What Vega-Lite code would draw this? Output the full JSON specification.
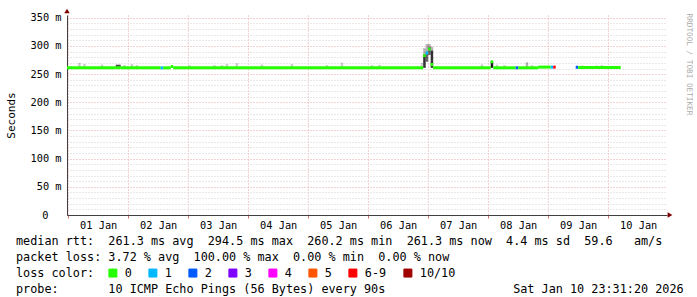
{
  "$schema": "https://vega.github.io/schema/vega-lite/v6.json",
  "width": 600,
  "height": 200,
  "autosize": {"type": "none"},
  "padding": {"left": 67, "top": 15, "right": 30, "bottom": 82},
  "background": "#ffffff",
  "config": {"view": {"stroke": null}},
  "title": {
    "text": ["median rtt:\u00a0\u00a0261.3 ms avg\u00a0\u00a0294.5 ms max\u00a0\u00a0260.2 ms min\u00a0\u00a0261.3 ms now\u00a0\u00a04.4 ms sd\u00a0\u00a059.6\u00a0\u00a0\u00a0am/s", "packet loss: 3.72 % avg\u00a0\u00a0100.00 % max\u00a0\u00a00.00 % min\u00a0\u00a00.00 % now", "loss color:", "probe:\u00a0\u00a0\u00a0\u00a0\u00a0\u00a0\u00a010 ICMP Echo Pings (56 Bytes) every 90s\u00a0\u00a0\u00a0\u00a0\u00a0\u00a0\u00a0\u00a0\u00a0\u00a0\u00a0\u00a0\u00a0\u00a0\u00a0\u00a0\u00a0\u00a0Sat Jan 10 23:31:20 2026"],
    "orient": "bottom", "anchor": "start", "frame": "group", "align": "left", "baseline": "alphabetic",
    "dx": -51, "offset": -35, "lineHeight": 16,
    "font": "DejaVu Sans Mono", "fontSize": 11.8, "fontWeight": "normal", "color": "#000000"
  },
  "resolve": {"axis": {"y": "independent"}},
  "datasets": {
    "median": [
      {"t0": "2025-12-31T23:00:00Z", "t1": "2026-01-01T19:00:00Z", "median": 0.2612, "loss": "0"},
      {"t0": "2026-01-01T19:00:00Z", "t1": "2026-01-01T21:00:00Z", "median": 0.2614, "loss": "0"},
      {"t0": "2026-01-01T21:00:00Z", "t1": "2026-01-02T13:00:00Z", "median": 0.2612, "loss": "0"},
      {"t0": "2026-01-02T13:00:00Z", "t1": "2026-01-02T14:00:00Z", "median": 0.2612, "loss": "1"},
      {"t0": "2026-01-02T14:00:00Z", "t1": "2026-01-02T17:00:00Z", "median": 0.2612, "loss": "0"},
      {"t0": "2026-01-02T17:00:00Z", "t1": "2026-01-02T18:00:00Z", "median": 0.2636, "loss": "0"},
      {"t0": "2026-01-02T18:00:00Z", "t1": "2026-01-06T22:00:00Z", "median": 0.2613, "loss": "0"},
      {"t0": "2026-01-06T22:00:00Z", "t1": "2026-01-06T23:00:00Z", "median": 0.2830, "loss": "0"},
      {"t0": "2026-01-06T23:00:00Z", "t1": "2026-01-07T00:00:00Z", "median": 0.2875, "loss": "1"},
      {"t0": "2026-01-07T00:00:00Z", "t1": "2026-01-07T01:00:00Z", "median": 0.2945, "loss": "0"},
      {"t0": "2026-01-07T01:00:00Z", "t1": "2026-01-07T02:00:00Z", "median": 0.2670, "loss": "0"},
      {"t0": "2026-01-07T02:00:00Z", "t1": "2026-01-08T01:00:00Z", "median": 0.2613, "loss": "0"},
      {"t0": "2026-01-08T01:00:00Z", "t1": "2026-01-08T02:00:00Z", "median": 0.2720, "loss": "0"},
      {"t0": "2026-01-08T02:00:00Z", "t1": "2026-01-08T11:00:00Z", "median": 0.2613, "loss": "0"},
      {"t0": "2026-01-08T11:00:00Z", "t1": "2026-01-08T12:00:00Z", "median": 0.2613, "loss": "2"},
      {"t0": "2026-01-08T12:00:00Z", "t1": "2026-01-08T20:00:00Z", "median": 0.2613, "loss": "0"},
      {"t0": "2026-01-08T20:00:00Z", "t1": "2026-01-09T01:00:00Z", "median": 0.2625, "loss": "0"},
      {"t0": "2026-01-09T01:00:00Z", "t1": "2026-01-09T02:00:00Z", "median": 0.2625, "loss": "1"},
      {"t0": "2026-01-09T02:00:00Z", "t1": "2026-01-09T03:00:00Z", "median": 0.2625, "loss": "6-9"},
      {"t0": "2026-01-09T11:00:00Z", "t1": "2026-01-09T12:00:00Z", "median": 0.2622, "loss": "2"},
      {"t0": "2026-01-09T12:00:00Z", "t1": "2026-01-10T05:00:00Z", "median": 0.2620, "loss": "0"}
    ],
    "smoke": [
      {"t0": "2026-01-01T04:00:00Z", "t1": "2026-01-01T05:00:00Z", "lo": 0.2612, "hi": 0.2700, "pings": 2},
      {"t0": "2026-01-01T06:00:00Z", "t1": "2026-01-01T07:00:00Z", "lo": 0.2612, "hi": 0.2680, "pings": 2},
      {"t0": "2026-01-01T13:00:00Z", "t1": "2026-01-01T14:00:00Z", "lo": 0.2612, "hi": 0.2670, "pings": 2},
      {"t0": "2026-01-01T19:00:00Z", "t1": "2026-01-01T21:00:00Z", "lo": 0.2612, "hi": 0.2668, "pings": 7},
      {"t0": "2026-01-01T22:00:00Z", "t1": "2026-01-01T23:00:00Z", "lo": 0.2612, "hi": 0.2660, "pings": 2},
      {"t0": "2026-01-02T01:00:00Z", "t1": "2026-01-02T02:00:00Z", "lo": 0.2612, "hi": 0.2680, "pings": 2},
      {"t0": "2026-01-02T03:00:00Z", "t1": "2026-01-02T04:00:00Z", "lo": 0.2612, "hi": 0.2660, "pings": 2},
      {"t0": "2026-01-03T00:00:00Z", "t1": "2026-01-03T01:00:00Z", "lo": 0.2612, "hi": 0.2660, "pings": 2},
      {"t0": "2026-01-03T10:00:00Z", "t1": "2026-01-03T11:00:00Z", "lo": 0.2612, "hi": 0.2660, "pings": 2},
      {"t0": "2026-01-03T13:00:00Z", "t1": "2026-01-03T14:00:00Z", "lo": 0.2612, "hi": 0.2660, "pings": 2},
      {"t0": "2026-01-03T15:00:00Z", "t1": "2026-01-03T16:00:00Z", "lo": 0.2612, "hi": 0.2680, "pings": 2},
      {"t0": "2026-01-03T19:00:00Z", "t1": "2026-01-03T20:00:00Z", "lo": 0.2612, "hi": 0.2695, "pings": 2},
      {"t0": "2026-01-04T05:00:00Z", "t1": "2026-01-04T06:00:00Z", "lo": 0.2612, "hi": 0.2670, "pings": 2},
      {"t0": "2026-01-04T17:00:00Z", "t1": "2026-01-04T18:00:00Z", "lo": 0.2612, "hi": 0.2680, "pings": 2},
      {"t0": "2026-01-05T07:00:00Z", "t1": "2026-01-05T08:00:00Z", "lo": 0.2612, "hi": 0.2660, "pings": 2},
      {"t0": "2026-01-05T13:00:00Z", "t1": "2026-01-05T14:00:00Z", "lo": 0.2612, "hi": 0.2705, "pings": 2},
      {"t0": "2026-01-06T01:00:00Z", "t1": "2026-01-06T02:00:00Z", "lo": 0.2612, "hi": 0.2660, "pings": 2},
      {"t0": "2026-01-06T04:00:00Z", "t1": "2026-01-06T05:00:00Z", "lo": 0.2612, "hi": 0.2665, "pings": 2},
      {"t0": "2026-01-06T21:00:00Z", "t1": "2026-01-06T22:00:00Z", "lo": 0.2612, "hi": 0.2700, "pings": 2},
      {"t0": "2026-01-06T22:00:00Z", "t1": "2026-01-06T23:00:00Z", "lo": 0.2612, "hi": 0.2850, "pings": 8},
      {"t0": "2026-01-06T22:00:00Z", "t1": "2026-01-06T23:00:00Z", "lo": 0.2850, "hi": 0.2960, "pings": 3},
      {"t0": "2026-01-06T23:00:00Z", "t1": "2026-01-07T00:00:00Z", "lo": 0.2720, "hi": 0.2900, "pings": 6},
      {"t0": "2026-01-06T23:00:00Z", "t1": "2026-01-07T00:00:00Z", "lo": 0.2900, "hi": 0.3035, "pings": 3},
      {"t0": "2026-01-07T00:00:00Z", "t1": "2026-01-07T01:00:00Z", "lo": 0.2840, "hi": 0.2990, "pings": 6},
      {"t0": "2026-01-07T00:00:00Z", "t1": "2026-01-07T01:00:00Z", "lo": 0.2990, "hi": 0.3035, "pings": 3},
      {"t0": "2026-01-07T01:00:00Z", "t1": "2026-01-07T02:00:00Z", "lo": 0.2612, "hi": 0.2920, "pings": 8},
      {"t0": "2026-01-07T01:00:00Z", "t1": "2026-01-07T02:00:00Z", "lo": 0.2920, "hi": 0.2985, "pings": 3},
      {"t0": "2026-01-07T21:00:00Z", "t1": "2026-01-07T22:00:00Z", "lo": 0.2612, "hi": 0.2675, "pings": 2},
      {"t0": "2026-01-08T01:00:00Z", "t1": "2026-01-08T02:00:00Z", "lo": 0.2612, "hi": 0.2730, "pings": 9},
      {"t0": "2026-01-08T03:00:00Z", "t1": "2026-01-08T04:00:00Z", "lo": 0.2612, "hi": 0.2670, "pings": 2},
      {"t0": "2026-01-08T06:00:00Z", "t1": "2026-01-08T07:00:00Z", "lo": 0.2612, "hi": 0.2660, "pings": 2},
      {"t0": "2026-01-08T15:00:00Z", "t1": "2026-01-08T16:00:00Z", "lo": 0.2612, "hi": 0.2710, "pings": 3},
      {"t0": "2026-01-08T17:00:00Z", "t1": "2026-01-08T18:00:00Z", "lo": 0.2612, "hi": 0.2660, "pings": 2},
      {"t0": "2026-01-09T13:00:00Z", "t1": "2026-01-09T14:00:00Z", "lo": 0.2612, "hi": 0.2655, "pings": 2},
      {"t0": "2026-01-09T19:00:00Z", "t1": "2026-01-09T20:00:00Z", "lo": 0.2612, "hi": 0.2655, "pings": 2},
      {"t0": "2026-01-09T21:00:00Z", "t1": "2026-01-09T22:00:00Z", "lo": 0.2612, "hi": 0.2660, "pings": 2}
    ]
  },
  "layer": [
    {
      "data": {"name": "smoke"},
      "mark": {"type": "rect", "color": "#000000", "clip": true},
      "encoding": {
        "x": {
          "field": "t0", "type": "temporal",
          "scale": {"type": "utc", "nice": false, "domain": [1767223880000, 1768087880000]},
          "axis": {
            "values": [1767225600000, 1767247200000, 1767268800000, 1767290400000, 1767312000000, 1767333600000, 1767355200000, 1767376800000, 1767398400000, 1767420000000, 1767441600000, 1767463200000, 1767484800000, 1767506400000, 1767528000000, 1767549600000, 1767571200000, 1767592800000, 1767614400000, 1767636000000, 1767657600000, 1767679200000, 1767700800000, 1767722400000, 1767744000000, 1767765600000, 1767787200000, 1767808800000, 1767830400000, 1767852000000, 1767873600000, 1767895200000, 1767916800000, 1767938400000, 1767960000000, 1767981600000, 1768003200000, 1768024800000, 1768046400000, 1768068000000],
            "labelExpr": "utchours(datum.value) == 0 ? utcFormat(datum.value, '%d %b') : ''",
            "labelOffset": 30,
            "labelOverlap": false, "labelFlush": false, "labelBound": false,
            "labelFont": "DejaVu Sans Mono", "labelFontSize": 10.3, "labelColor": "#000000", "labelPadding": 2,
            "tickSize": 3,
            "tickColor": {"condition": {"test": "utchours(datum.value) == 0", "value": "#d07070"}, "value": "#b8b8b8"},
            "grid": true,
            "gridColor": {"condition": {"test": "utchours(datum.value) == 0", "value": "#e6a6a6"}, "value": "#d2d2d2"},
            "gridDash": [1, 2],
            "domainColor": "#404040",
            "title": "RRDTOOL / TOBI OETIKER",
            "titleFont": "DejaVu Sans Mono", "titleFontSize": 7.7, "titleFontWeight": "normal", "titleColor": "#aaaaaa",
            "titleAngle": 90, "titleAlign": "left", "titleBaseline": "middle",
            "titleX": 621, "titleY": -202
          }
        },
        "x2": {"field": "t1"},
        "y": {
          "field": "lo", "type": "quantitative",
          "scale": {"domain": [0, 0.355], "nice": false, "zero": true},
          "axis": {
            "orient": "left",
            "values": [0, 0.05, 0.1, 0.15, 0.2, 0.25, 0.3, 0.35],
            "labelExpr": "datum.value == 0 ? '0' : round(datum.value*1000) + ' m'",
            "ticks": false,
            "labelPadding": {"condition": {"test": "datum.value == 0", "value": 19}, "value": 6},
            "labelFont": "DejaVu Sans Mono", "labelFontSize": 10.3, "labelColor": "#000000",
            "labelOverlap": false, "labelBound": false, "labelFlush": false,
            "grid": true, "gridColor": "#e6a6a6", "gridDash": [1, 2],
            "domainColor": "#404040",
            "title": "Seconds", "titleFont": "DejaVu Sans Mono", "titleFontSize": 11, "titleFontWeight": "normal", "titleColor": "#000000",
            "titleX": -56, "titleY": 100, "titleAngle": 270, "titleAlign": "center", "titleBaseline": "middle"
          }
        },
        "y2": {"field": "hi"},
        "opacity": {"field": "pings", "type": "quantitative", "scale": {"domain": [0, 10], "range": [0, 1]}, "legend": null}
      }
    },
    {
      "data": {"name": "median"},
      "mark": {"type": "rule", "strokeWidth": 3, "strokeCap": "butt", "clip": true},
      "encoding": {
        "x": {"field": "t0", "type": "temporal"},
        "x2": {"field": "t1"},
        "y": {
          "field": "median", "type": "quantitative",
          "axis": {
            "orient": "left",
            "values": [0.01, 0.02, 0.03, 0.04, 0.06, 0.07, 0.08, 0.09, 0.11, 0.12, 0.13, 0.14, 0.16, 0.17, 0.18, 0.19, 0.21, 0.22, 0.23, 0.24, 0.26, 0.27, 0.28, 0.29, 0.31, 0.32, 0.33, 0.34],
            "labels": false, "ticks": false, "domain": false,
            "grid": true, "gridColor": "#d2d2d2", "gridDash": [1, 2],
            "title": null
          }
        },
        "color": {
          "field": "loss", "type": "nominal",
          "scale": {"domain": ["0", "1", "2", "3", "4", "5", "6-9", "10/10"], "range": ["#26ff00", "#00b8ff", "#0059ff", "#7e00ff", "#ff00ff", "#ff5500", "#ff0000", "#a10000"]},
          "legend": {
            "orient": "none", "legendX": 40, "legendY": 252,
            "direction": "horizontal", "columns": 8,
            "title": null,
            "symbolType": "square", "symbolSize": 64, "symbolStrokeColor": "#000000", "symbolStrokeWidth": 1,
            "labelFont": "DejaVu Sans Mono", "labelFontSize": 11.8, "labelColor": "#000000", "labelOffset": 6,
            "columnPadding": 14, "padding": 0,
            "encode": {"symbols": {"update": {"fill": {"scale": "color", "field": "value"}, "stroke": {"value": "#000000"}, "strokeWidth": {"value": 1}, "opacity": {"value": 1}}}}
          }
        }
      }
    },
    {
      "data": {"values": [{"end": "axis top"}]},
      "mark": {"type": "point", "shape": "triangle-up", "filled": true, "color": "#7f0000", "opacity": 1, "size": 30, "yOffset": -4},
      "encoding": {
        "x": {"datum": 1767223880000, "type": "temporal"},
        "y": {"datum": 0.355, "type": "quantitative", "axis": null}
      }
    },
    {
      "data": {"values": [{"end": "axis right"}]},
      "mark": {"type": "point", "shape": "triangle-right", "filled": true, "color": "#7f0000", "opacity": 1, "size": 30, "xOffset": 3},
      "encoding": {
        "x": {"datum": 1768087880000, "type": "temporal"},
        "y": {"datum": 0, "type": "quantitative", "axis": null}
      }
    }
  ]
}
